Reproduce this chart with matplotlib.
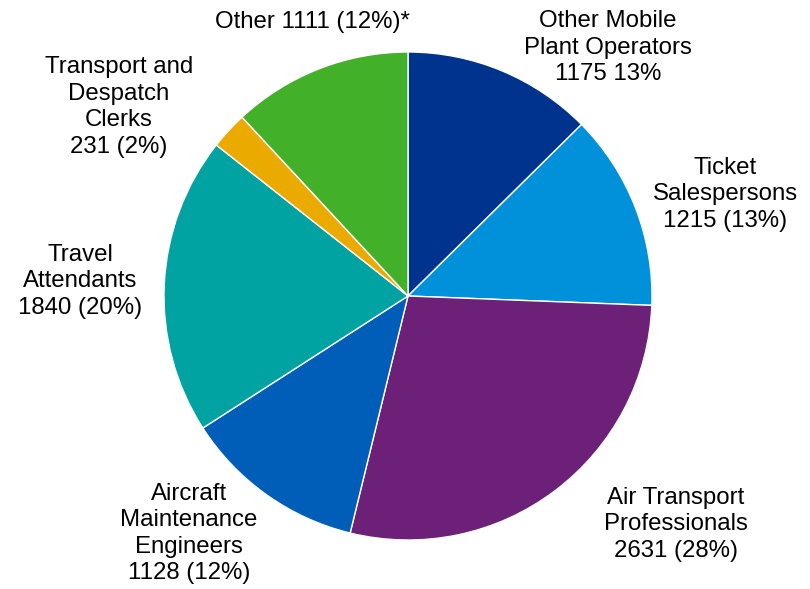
import matplotlib
matplotlib.use("Agg")
import matplotlib.pyplot as plt

plt.rcParams["font.family"] = ["Liberation Sans", "DejaVu Sans"]

# Occupations, clockwise from 12 o'clock
categories = [
    "Other Mobile\nPlant Operators",
    "Ticket\nSalespersons",
    "Air Transport\nProfessionals",
    "Aircraft\nMaintenance\nEngineers",
    "Travel\nAttendants",
    "Transport and\nDespatch\nClerks",
    "Other",
]
values = [1175, 1215, 2631, 1128, 1840, 231, 1111]
value_labels = [
    "1175 13%",
    "1215 (13%)",
    "2631 (28%)",
    "1128 (12%)",
    "1840 (20%)",
    "231 (2%)",
    "1111 (12%)*",
]
colors = ["#00338D", "#0091DA", "#6D2077", "#005EB8", "#00A3A1", "#EAAA00", "#43B02A"]

# label centres in pie-radius units (pie centred at origin, radius 1)
label_pos = [
    (0.82, 1.018),
    (1.30, 0.416),
    (1.098, -0.936),
    (-0.898, -0.973),
    (-1.344, 0.061),
    (-1.184, 0.775),
    (-0.393, 1.123),
]

fig = plt.figure(figsize=(8.10, 5.89), dpi=100)
ax = fig.add_axes([0, 0, 1, 1])
ax.pie(
    values,
    colors=colors,
    startangle=90,
    counterclock=False,
    radius=1.0,
    wedgeprops=dict(edgecolor="white", linewidth=1.0),
)
ax.set_xlim(-408 / 244, (810 - 408) / 244)
ax.set_ylim(-(589 - 296) / 244, 296 / 244)
ax.set_aspect("auto")
ax.axis("off")

for cat, lab, (x, y) in zip(categories, value_labels, label_pos):
    if cat == "Other":
        text = f"{cat} {lab}"
    else:
        text = f"{cat}\n{lab}"
    ax.text(x, y, text, ha="center", va="center", fontsize=17.3,
            linespacing=1.26, color="#000000")

fig.savefig("out.png", dpi=100)
